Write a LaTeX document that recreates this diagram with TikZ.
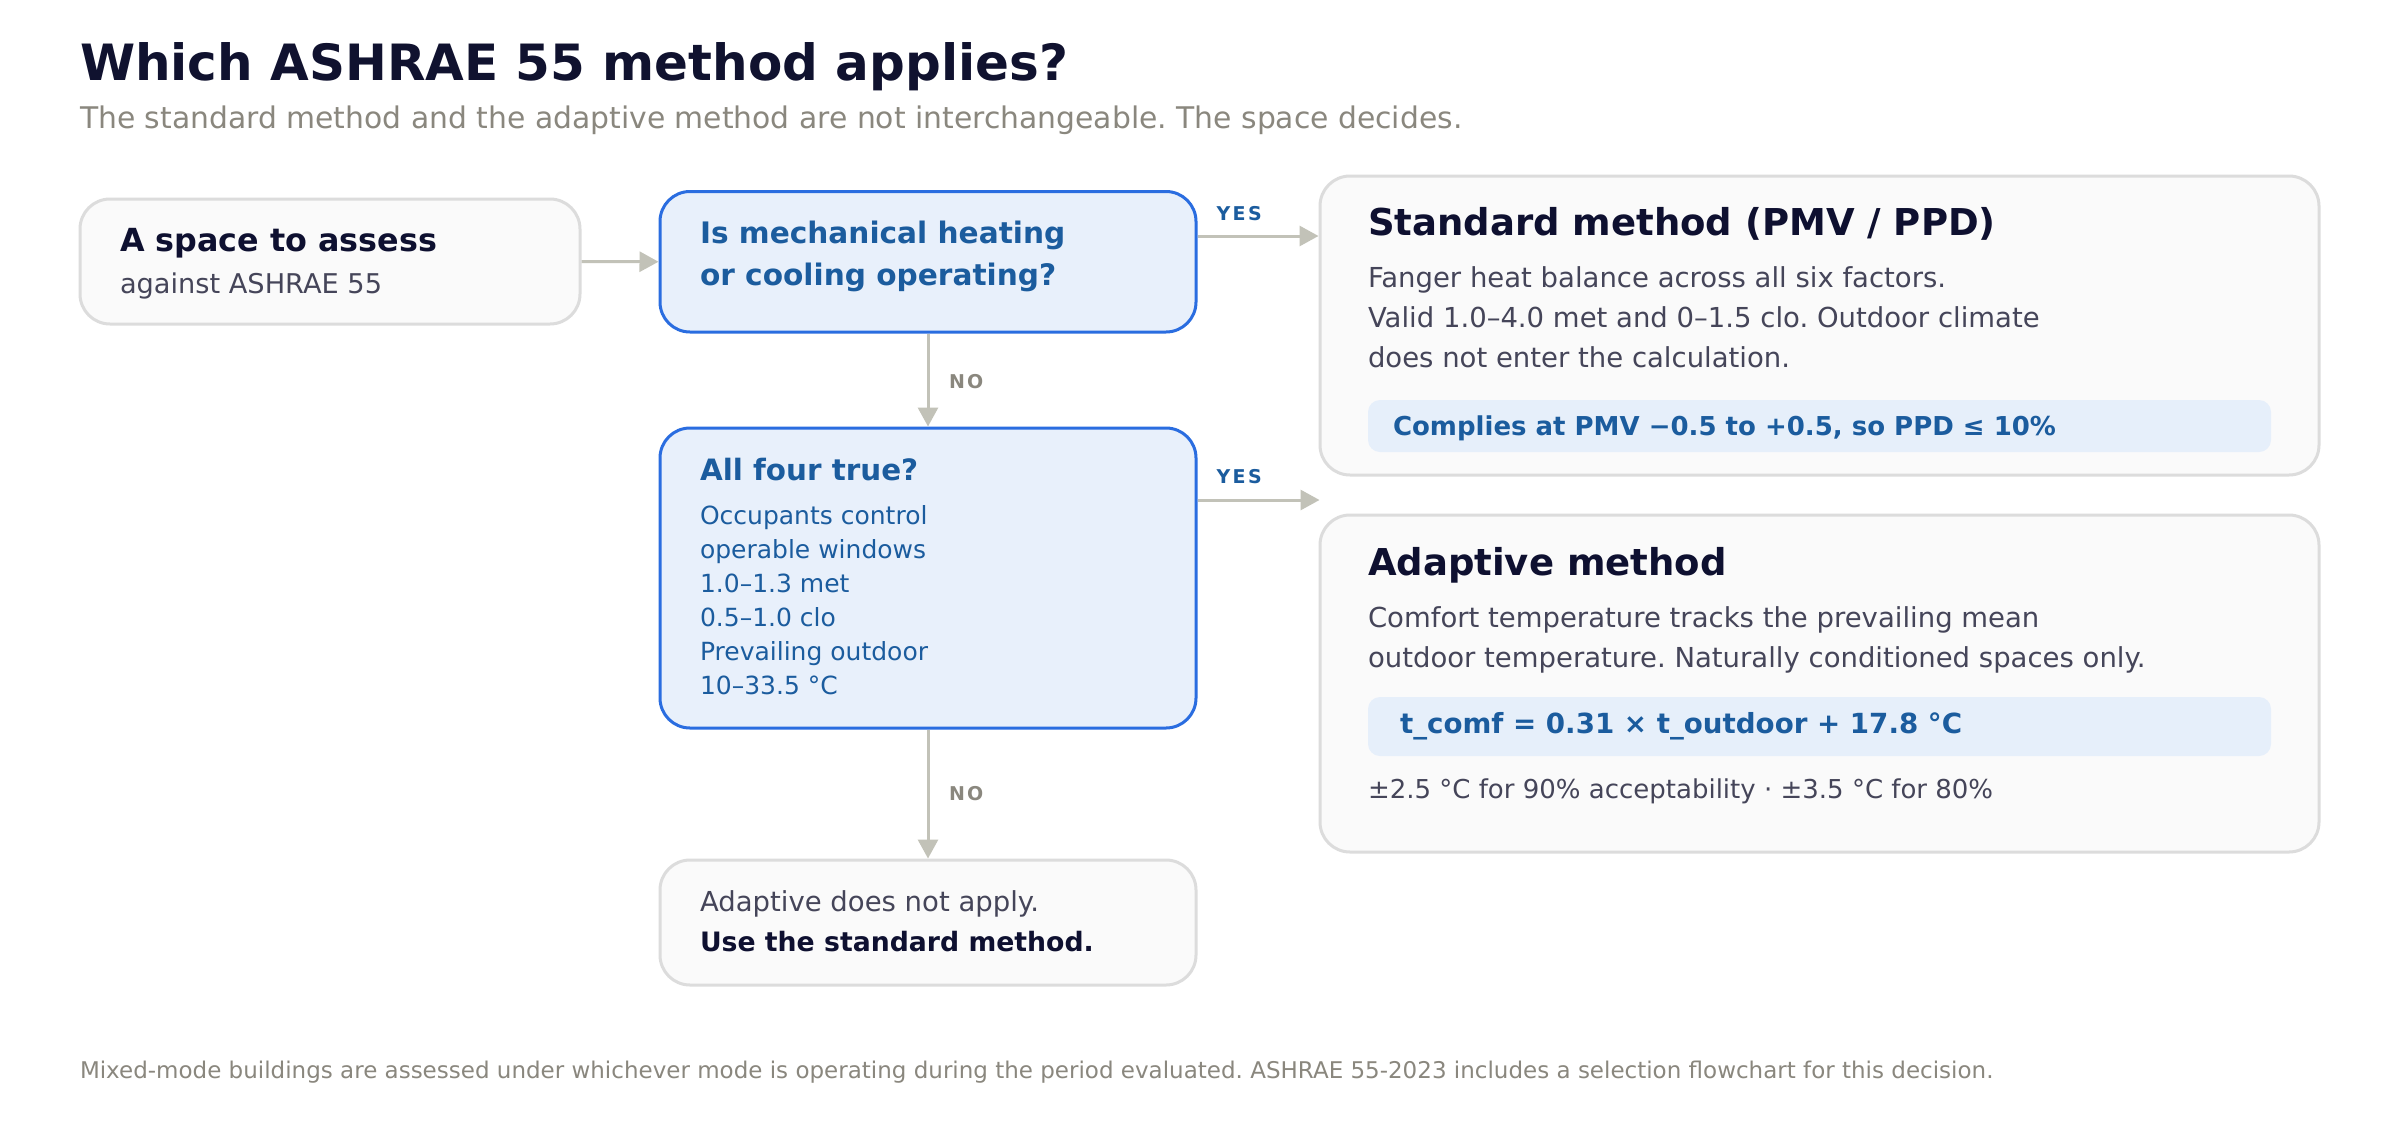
\documentclass[tikz,border=0pt]{standalone}
\usepackage{fontspec}
\setmainfont{DejaVu Sans}
\newfontfamily\lblfont[LetterSpace=12]{DejaVu Sans}
\usetikzlibrary{arrows.meta,calc}
\frenchspacing
\definecolor{titlec}{HTML}{10122F}
\definecolor{subc}{HTML}{8A877E}
\definecolor{bodyc}{HTML}{454559}
\definecolor{headc}{HTML}{0E1030}
\definecolor{qtext}{HTML}{1B5C9E}
\definecolor{qborder}{HTML}{2A6DE0}
\definecolor{qfill}{HTML}{E8F0FB}
\definecolor{boxfill}{HTML}{FAFAFA}
\definecolor{boxborder}{HTML}{DCDCDC}
\definecolor{barfill}{HTML}{E6EFFA}
\definecolor{arrowc}{HTML}{C2C2B8}
\tikzset{
  plainbox/.style={draw=boxborder, fill=boxfill, line width=1.5pt, rounded corners=15pt, inner sep=0pt},
  qbox/.style={draw=qborder, fill=qfill, line width=1.5pt, rounded corners=15pt, inner sep=0pt},
  barbox/.style={fill=barfill, draw=none, rounded corners=6pt, inner sep=0pt},
  txt/.style={anchor=base west, inner sep=0pt, outer sep=0pt},
  bodytxt/.style={txt, text=bodyc, font=\fontsize{13.75}{16}\selectfont},
  qlist/.style={txt, text=qtext, font=\fontsize{12.5}{15}\selectfont},
  arr/.style={draw=arrowc, line width=1.5pt, -{Triangle[width=10pt,length=9.5pt]}},
  yeslbl/.style={txt, text=qtext, font=\lblfont\bfseries\fontsize{9.5}{11}\selectfont},
  nolbl/.style={txt, text=subc, font=\lblfont\bfseries\fontsize{9.5}{11}\selectfont},
}
\begin{document}
\begin{tikzpicture}[x=0.5pt, y=-0.5pt]
\useasboundingbox[fill=white] (0,0) rectangle (2400,1120);

% title
\node[txt, text=titlec, font=\bfseries\fontsize{25}{29}\selectfont] (title) at (80,80) {Which ASHRAE 55 method applies?};
\node[txt, text=subc, font=\fontsize{14.9}{17}\selectfont] (subtitle) at (80,128) {The standard method and the adaptive method are not interchangeable. The space decides.};

% boxes
\node[plainbox, minimum width=250pt, minimum height=62.5pt] (start) at (330,261.5) {};
\node[qbox, minimum width=268pt, minimum height=70.25pt] (q1) at (928,261.75) {};
\node[plainbox, minimum width=499.5pt, minimum height=149.5pt] (std) at (1819.5,325.5) {};
\node[qbox, minimum width=268pt, minimum height=150pt] (q2) at (928,578) {};
\node[plainbox, minimum width=499.5pt, minimum height=168.5pt] (adapt) at (1819.5,683.5) {};
\node[plainbox, minimum width=268pt, minimum height=62.5pt] (nogo) at (928,922.5) {};
\node[barbox, minimum width=451.5pt, minimum height=26pt] (bar1) at (1819.5,426) {};
\node[barbox, minimum width=451.5pt, minimum height=29.5pt] (bar2) at (1819.5,726.5) {};

% start box text
\node[txt, text=headc, font=\bfseries\fontsize{15.9}{18}\selectfont] (starta) at (120,251.7) {A space to assess};
\node[bodytxt, font=\fontsize{13.6}{16}\selectfont] (startb) at (120,293) {against ASHRAE 55};

% q1 text
\node[txt, text=qtext, font=\bfseries\fontsize{14.8}{18}\selectfont] (q1a) at (700,243) {Is mechanical heating};
\node[txt, text=qtext, font=\bfseries\fontsize{14.8}{18}\selectfont] (q1b) at (700,285) {or cooling operating?};

% q2 text
\node[txt, text=qtext, font=\bfseries\fontsize{14.7}{18}\selectfont] (q2t) at (700,480) {All four true?};
\node[qlist] (q2l1) at (700,524.5) {Occupants control};
\node[qlist] (q2l2) at (700,558.5) {operable windows};
\node[qlist] (q2l3) at (700,592.5) {1.0–1.3 met};
\node[qlist] (q2l4) at (700,626.5) {0.5–1.0 clo};
\node[qlist] (q2l5) at (700,660.5) {Prevailing outdoor};
\node[qlist] (q2l6) at (700,694.5) {10–33.5 °C};

% standard method
\node[txt, text=headc, font=\bfseries\fontsize{18.5}{22}\selectfont] (stdt) at (1368,235) {Standard method (PMV / PPD)};
\node[bodytxt] (stdl1) at (1368,287) {Fanger heat balance across all six factors.};
\node[bodytxt] (stdl2) at (1368,327) {Valid 1.0–4.0 met and 0–1.5 clo. Outdoor climate};
\node[bodytxt] (stdl3) at (1368,367) {does not enter the calculation.};
\node[txt, text=qtext, font=\bfseries\fontsize{13}{16}\selectfont] (bar1t) at (1393,435) {Complies at PMV −0.5 to +0.5, so PPD ≤ 10\%};

% adaptive method
\node[txt, text=headc, font=\bfseries\fontsize{18.5}{22}\selectfont] (adt) at (1368,575) {Adaptive method};
\node[bodytxt] (adl1) at (1368,627) {Comfort temperature tracks the prevailing mean};
\node[bodytxt] (adl2) at (1368,667) {outdoor temperature. Naturally conditioned spaces only.};
\node[txt, text=qtext, font=\bfseries\fontsize{13.85}{16}\selectfont] (bar2t) at (1400,733) {t\_comf = 0.31 × t\_outdoor + 17.8 °C};
\node[bodytxt, font=\fontsize{13}{16}\selectfont] (adl3) at (1368,798) {±2.5 °C for 90\% acceptability · ±3.5 °C for 80\%};

% no-go box
\node[bodytxt] (nogoa) at (700,911.5) {Adaptive does not apply.};
\node[txt, text=headc, font=\bfseries\fontsize{13.35}{16}\selectfont] (nogob) at (700,951.7) {Use the standard method.};

% connectors
\draw[arr] (start.east) -- (q1.west);
\draw[arr] ([yshift=12.875pt]q1.east) -- ([yshift=12.875pt]q1.east -| std.west);
\draw[arr] (q1.south) -- (q2.north);
\draw[arr] ([yshift=39pt]q2.east) -- ([yshift=39pt,xshift=0.5pt]q2.east -| adapt.west);
\draw[arr] (q2.south) -- (nogo.north);

% connector labels
\node[yeslbl] (yes1) at (1216.7,220) {YES};
\node[yeslbl] (yes2) at (1216.7,483) {YES};
\node[nolbl] (no1) at (949,388) {NO};
\node[nolbl] (no2) at (949,800) {NO};

% footnote
\node[txt, text=subc, font=\fontsize{11.5}{13}\selectfont] (foot) at (80,1078) {Mixed-mode buildings are assessed under whichever mode is operating during the period evaluated. ASHRAE 55-2023 includes a selection flowchart for this decision.};
\end{tikzpicture}
\end{document}
